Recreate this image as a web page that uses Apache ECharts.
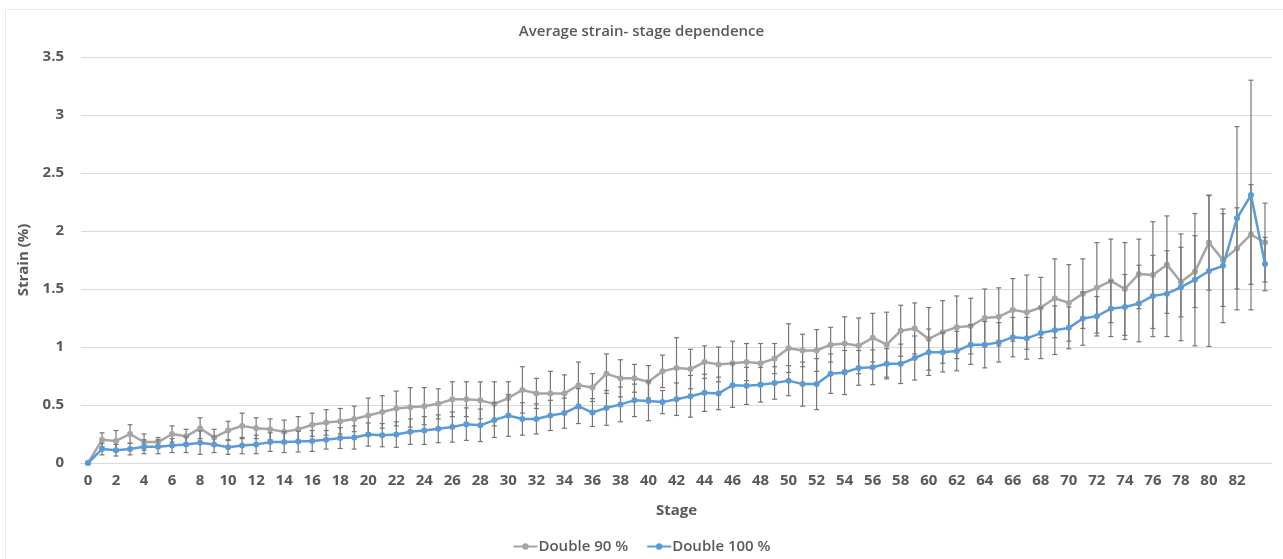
<!DOCTYPE html>
<html>
<head>
<meta charset="utf-8">
<script src="https://cdn.jsdelivr.net/npm/echarts@6/dist/echarts.min.js"></script>
<style>
  html, body { margin: 0; padding: 0; background: #ffffff; }
  #chart { width: 1283px; height: 559px; }
</style>
</head>
<body>
<div id="chart"></div>
<script>
// Stages 0..84
const stages = Array.from({ length: 85 }, (_, i) => String(i));

// Mean strain (%) per stage
const double90 = [
  0, 0.20, 0.19, 0.25, 0.18, 0.18, 0.25, 0.23, 0.30, 0.22,
  0.28, 0.32, 0.30, 0.29, 0.27, 0.29, 0.33, 0.35, 0.36, 0.38,
  0.41, 0.44, 0.47, 0.48, 0.49, 0.51, 0.55, 0.55, 0.54, 0.51,
  0.56, 0.63, 0.60, 0.60, 0.60, 0.67, 0.65, 0.77, 0.73, 0.73,
  0.70, 0.79, 0.82, 0.81, 0.87, 0.85, 0.86, 0.87, 0.86, 0.90,
  0.99, 0.97, 0.97, 1.02, 1.03, 1.01, 1.08, 1.02, 1.14, 1.16,
  1.07, 1.13, 1.17, 1.18, 1.25, 1.26, 1.32, 1.30, 1.34, 1.42,
  1.38, 1.46, 1.51, 1.57, 1.50, 1.63, 1.62, 1.71, 1.56, 1.65,
  1.90, 1.75, 1.85, 1.97, 1.90
];
const double100 = [
  0, 0.12, 0.11, 0.12, 0.14, 0.14, 0.15, 0.16, 0.175, 0.16,
  0.135, 0.15, 0.16, 0.18, 0.18, 0.185, 0.19, 0.20, 0.215, 0.22,
  0.245, 0.24, 0.245, 0.27, 0.28, 0.295, 0.31, 0.335, 0.325, 0.37,
  0.41, 0.38, 0.38, 0.41, 0.43, 0.49, 0.435, 0.475, 0.505, 0.54,
  0.535, 0.525, 0.55, 0.575, 0.605, 0.60, 0.67, 0.665, 0.675, 0.69,
  0.71, 0.68, 0.68, 0.77, 0.78, 0.82, 0.825, 0.855, 0.855, 0.905,
  0.955, 0.955, 0.965, 1.02, 1.02, 1.04, 1.085, 1.075, 1.12, 1.145,
  1.165, 1.245, 1.265, 1.33, 1.345, 1.375, 1.44, 1.46, 1.515, 1.58,
  1.655, 1.70, 2.11, 2.31, 1.715
];

// Standard deviation (%) per stage, drawn as symmetric error bars
const double90Err = [
  0, 0.06, 0.09, 0.08, 0.07, 0.04, 0.07, 0.06, 0.09, 0.07,
  0.08, 0.11, 0.09, 0.09, 0.10, 0.11, 0.10, 0.11, 0.11, 0.11,
  0.15, 0.14, 0.15, 0.17, 0.16, 0.13, 0.15, 0.15, 0.16, 0.19,
  0.14, 0.20, 0.13, 0.19, 0.16, 0.20, 0.12, 0.17, 0.16, 0.12,
  0.14, 0.14, 0.26, 0.17, 0.14, 0.15, 0.19, 0.16, 0.17, 0.13,
  0.21, 0.14, 0.18, 0.15, 0.23, 0.24, 0.21, 0.28, 0.22, 0.22,
  0.27, 0.27, 0.27, 0.24, 0.25, 0.25, 0.27, 0.32, 0.26, 0.34,
  0.33, 0.30, 0.39, 0.36, 0.40, 0.30, 0.46, 0.42, 0.30, 0.31,
  0.41, 0.40, 0.35, 0.43, 0.34
];
const double100Err = [
  0, 0.05, 0.05, 0.05, 0.06, 0.06, 0.06, 0.07, 0.10, 0.07,
  0.06, 0.07, 0.08, 0.08, 0.09, 0.09, 0.09, 0.08, 0.09, 0.10,
  0.10, 0.10, 0.11, 0.11, 0.12, 0.12, 0.13, 0.14, 0.14, 0.15,
  0.18, 0.14, 0.13, 0.13, 0.13, 0.15, 0.12, 0.15, 0.15, 0.14,
  0.17, 0.10, 0.14, 0.18, 0.16, 0.14, 0.19, 0.16, 0.15, 0.14,
  0.13, 0.19, 0.22, 0.17, 0.19, 0.15, 0.15, 0.13, 0.17, 0.19,
  0.20, 0.17, 0.17, 0.17, 0.20, 0.17, 0.17, 0.18, 0.22, 0.21,
  0.18, 0.23, 0.17, 0.24, 0.28, 0.33, 0.35, 0.37, 0.46, 0.57,
  0.65, 0.49, 0.79, 0.99, 0.23
];

const TEXT = '#595959';
const FONT = '"Open Sans", "Liberation Sans", sans-serif';
const GRAY = '#a5a5a5';
const BLUE = '#5b9bd5';
const ERR = '#767676';

function errorData(mean, err) {
  return mean.map((v, i) => [i, v - err[i], v + err[i]]);
}

function renderErrorBar(params, api) {
  const x = api.value(0);
  const lo = api.coord([x, api.value(1)]);
  const hi = api.coord([x, api.value(2)]);
  if (Math.abs(hi[1] - lo[1]) < 1) return null;
  const half = 2.5;
  const style = { stroke: ERR, lineWidth: 1.2 };
  return {
    type: 'group',
    children: [
      { type: 'line', shape: { x1: lo[0], y1: lo[1], x2: hi[0], y2: hi[1] }, style },
      { type: 'line', shape: { x1: hi[0] - half, y1: hi[1], x2: hi[0] + half, y2: hi[1] }, style },
      { type: 'line', shape: { x1: lo[0] - half, y1: lo[1], x2: lo[0] + half, y2: lo[1] }, style }
    ]
  };
}

const chart = echarts.init(document.getElementById('chart'), null, { renderer: 'canvas' });

chart.setOption({
  backgroundColor: '#ffffff',
  animation: false,
  graphic: [{
    type: 'rect',
    shape: { x: 5.5, y: 9.5, width: 1300, height: 600 },
    style: { fill: 'none', stroke: '#e8e8e8', lineWidth: 1 },
    silent: true,
    z: -10
  }],
  title: {
    text: 'Average strain- stage dependence',
    left: 'center',
    top: 19,
    textStyle: { fontFamily: FONT, fontSize: 15, fontWeight: 600, color: TEXT }
  },
  grid: { left: 81, right: 11, top: 57, bottom: 96, containLabel: false },
  legend: {
    bottom: 0,
    left: 'center',
    itemWidth: 24,
    itemHeight: 8,
    itemGap: 18,
    data: ['Double 90 %', 'Double 100 %'],
    textStyle: { fontFamily: FONT, fontSize: 15, fontWeight: 600, color: TEXT, padding: [0, 0, 0, -4] }
  },
  xAxis: {
    type: 'category',
    data: stages,
    boundaryGap: true,
    name: 'Stage',
    nameLocation: 'middle',
    nameGap: 40,
    nameTextStyle: { fontFamily: FONT, fontSize: 15, fontWeight: 'bold', color: TEXT },
    axisLine: { show: true, lineStyle: { color: '#d9d9d9', width: 1 } },
    axisTick: { show: false },
    axisLabel: {
      interval: (idx) => idx % 2 === 0 && idx < 84,
      margin: 10,
      fontFamily: FONT, fontSize: 15, fontWeight: 'bold', color: TEXT
    },
    splitLine: { show: false }
  },
  yAxis: {
    type: 'value',
    min: 0,
    max: 3.5,
    interval: 0.5,
    name: 'Strain (%)',
    nameLocation: 'middle',
    nameGap: 46,
    nameTextStyle: { fontFamily: FONT, fontSize: 15, fontWeight: 'bold', color: TEXT },
    axisLine: { show: false },
    axisTick: { show: false },
    axisLabel: { margin: 17, fontFamily: FONT, fontSize: 15, fontWeight: 'bold', color: TEXT },
    splitLine: { lineStyle: { color: '#d9d9d9', width: 1 } }
  },
  series: [
    {
      name: 'Double 90 % error',
      type: 'custom',
      renderItem: renderErrorBar,
      data: errorData(double90, double90Err),
      encode: { x: 0, y: [1, 2] },
      z: 1,
      silent: true
    },
    {
      name: 'Double 90 %',
      type: 'line',
      data: double90,
      color: GRAY,
      symbol: 'circle',
      symbolSize: 6,
      showSymbol: true,
      lineStyle: { width: 2.5, color: GRAY },
      itemStyle: { color: GRAY },
      z: 2
    },
    {
      name: 'Double 100 % error',
      type: 'custom',
      renderItem: renderErrorBar,
      data: errorData(double100, double100Err),
      encode: { x: 0, y: [1, 2] },
      z: 3,
      silent: true
    },
    {
      name: 'Double 100 %',
      type: 'line',
      data: double100,
      color: BLUE,
      symbol: 'circle',
      symbolSize: 6,
      showSymbol: true,
      lineStyle: { width: 2.5, color: BLUE },
      itemStyle: { color: BLUE },
      z: 4
    }
  ]
});
</script>
</body>
</html>
